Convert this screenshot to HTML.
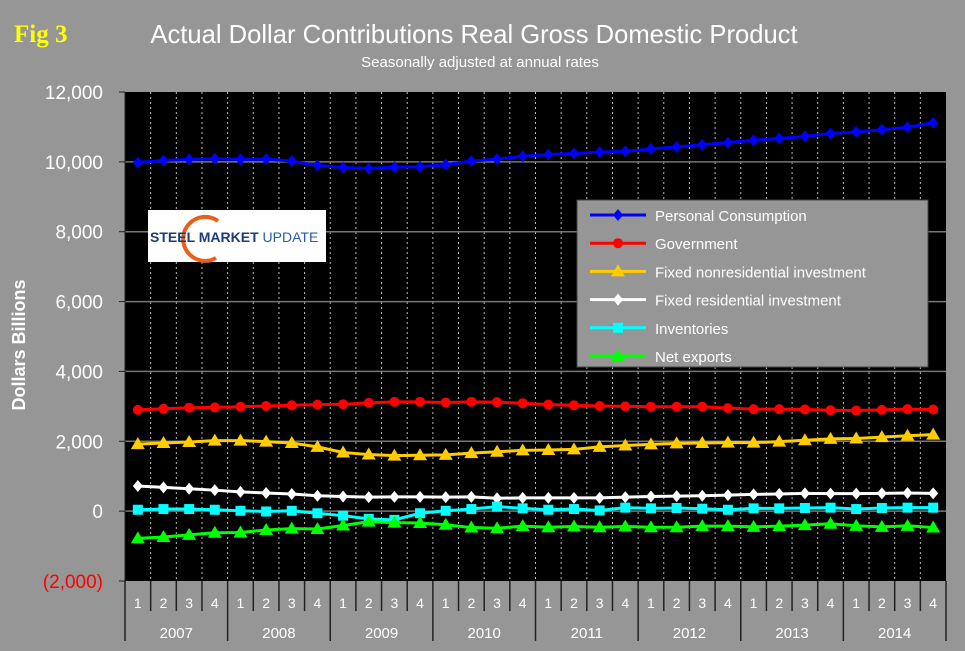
<!DOCTYPE html>
<html><head><meta charset="utf-8"><style>
body{margin:0;background:#969696;}
svg{display:block;font-family:"Liberation Sans",sans-serif;}
</style></head><body>
<svg id="c" width="965" height="651">
<rect x="0" y="0" width="965" height="651" fill="#969696"/>
<text x="14" y="42" font-family="Liberation Serif,serif" font-weight="bold" font-size="25" fill="#ffff00">Fig 3</text>
<text x="474" y="43" text-anchor="middle" font-size="25.6" fill="#fff">Actual Dollar Contributions Real Gross Domestic Product</text>
<text x="480" y="67" text-anchor="middle" font-size="15" fill="#fff">Seasonally adjusted at annual rates</text>
<text transform="translate(25,345) rotate(-90)" text-anchor="middle" font-size="18" font-weight="bold" fill="#fff">Dollars Billions</text>
<g id="plot"></g>
</svg>
<script>
const years=['2007','2008','2009','2010','2011','2012','2013','2014'];
const quarters=['1','2','3','4'];
const yTicks=[-2000,0,2000,4000,6000,8000,10000,12000];
const yTickLabels=['(2,000)','0','2,000','4,000','6,000','8,000','10,000','12,000'];
const seriesNames=['Personal Consumption','Government','Fixed nonresidential investment','Fixed residential investment','Inventories','Net exports'];
const personal=[9980,10040,10070,10090,10070,10080,10020,9900,9840,9810,9850,9860,9920,10020,10080,10160,10210,10240,10280,10300,10370,10430,10490,10550,10620,10670,10730,10810,10860,10920,10990,11120];
const government=[2900,2930,2960,2970,2990,3010,3030,3050,3060,3100,3130,3130,3110,3130,3120,3090,3050,3030,3010,3000,2990,2990,2990,2950,2920,2920,2910,2890,2880,2900,2920,2910];
const nonres=[1920,1950,1980,2020,2020,1990,1950,1840,1680,1620,1590,1600,1610,1660,1700,1740,1750,1770,1840,1880,1910,1940,1950,1960,1960,1990,2030,2070,2080,2120,2160,2190];
const resid=[720,680,640,600,550,520,490,440,420,400,410,410,400,410,370,380,380,380,380,400,420,430,440,460,480,490,510,500,500,510,520,510];
const inventories=[40,60,60,40,10,-10,10,-60,-130,-220,-250,-60,10,60,130,80,40,60,20,100,80,90,70,40,80,80,90,100,60,90,100,100];
const netExports=[-780,-740,-680,-620,-610,-540,-500,-510,-410,-300,-330,-340,-390,-470,-490,-430,-460,-440,-460,-440,-460,-460,-430,-430,-450,-430,-400,-360,-420,-450,-420,-470];

const NS='http://www.w3.org/2000/svg';
const X0=125,X1=946,Y0=92,Y1=581,VMIN=-2000,VMAX=12000;
const N=years.length*quarters.length, W=(X1-X0)/N;
const xs=i=>X0+W*(i+0.5);
const ys=v=>Y1-(v-VMIN)/(VMAX-VMIN)*(Y1-Y0);
const g=document.getElementById('plot');
function mk(t,a,p){const e=document.createElementNS(NS,t);for(const k in a)e.setAttribute(k,a[k]);(p||g).appendChild(e);return e;}

const bg=mk('rect',{x:X0,y:Y0,width:X1-X0,height:Y1-Y0,fill:'#000'});


for(let i=1;i<N;i++){
  const l=mk('line',{x1:X0+W*i,x2:X0+W*i,y1:Y0,y2:Y1,stroke:'#bbb','stroke-width':1,'stroke-dasharray':'2,3'});
  
  
}
yTicks.forEach((v,i)=>{
  if(v!==VMIN&&v!==VMAX){
    const l=mk('line',{x1:X0,x2:X1,y1:ys(v),y2:ys(v),stroke:'#777','stroke-width':1.5});
    
    
  }
  const tk=mk('line',{x1:X0-6,x2:X0,y1:ys(v),y2:ys(v),stroke:'#222'});
  
  
  const t=mk('text',{x:103,y:ys(v)+7,'text-anchor':'end','font-size':19,fill:v<0?'#ff0000':'#fff'});
  t.textContent=yTickLabels[i];
  
  
});
const ax=mk('line',{x1:X0,x2:X0,y1:Y0,y2:Y1,stroke:'#222','stroke-width':1});


for(let i=0;i<=N;i++){
  const isYear=i%4===0;
  const l=mk('line',{x1:X0+W*i,x2:X0+W*i,y1:Y1,y2:isYear?641:611,stroke:'#222','stroke-width':1.5});
  
  
}
years.forEach((yr,yi)=>{
  quarters.forEach((q,qi)=>{
    const t=mk('text',{x:xs(yi*4+qi),y:608,'text-anchor':'middle','font-size':14,fill:'#fff'});
    t.textContent=q;
    
    
  });
  const t=mk('text',{x:X0+W*(yi*4+2),y:638,'text-anchor':'middle','font-size':15,fill:'#fff'});
  t.textContent=yr;
  
  
});

function marker(type,x,y,c,p){
  if(type==='diamond')return mk('polygon',{points:`${x},${y-6} ${x+5},${y} ${x},${y+6} ${x-5},${y}`,fill:c},p);
  if(type==='circle')return mk('circle',{cx:x,cy:y,r:5,fill:c},p);
  if(type==='tri')return mk('polygon',{points:`${x},${y-7} ${x+7},${y+5} ${x-7},${y+5}`,fill:c},p);
  return mk('rect',{x:x-5,y:y-5,width:10,height:10,fill:c},p);
}
const seriesData=[personal,government,nonres,resid,inventories,netExports];
const colors=['#0000ff','#ff0000','#ffcc00','#ffffff','#00ffff','#00ff00'];
const mtypes=['diamond','circle','tri','diamond','square','tri'];
const snames=['series-personal-consumption','series-government','series-fixed-nonresidential','series-fixed-residential','series-inventories','series-net-exports'];
seriesData.forEach((d,s)=>{
  const sg=mk('g',{});
  
  
  const pl=mk('polyline',{points:d.map((v,i)=>xs(i)+','+ys(v)).join(' '),fill:'none',stroke:colors[s],'stroke-width':3},sg);
  
  
  d.forEach((v,i)=>{
    const m=marker(mtypes[s],xs(i),ys(v),colors[s],sg);
    
    
  });
});

// logo
const lg=mk('g',{});


mk('rect',{x:148,y:210,width:178,height:52,fill:'#fff'},lg);
mk('path',{d:'M218,221 A22,22 0 1,0 216,258',fill:'none',stroke:'#e8601c','stroke-width':4},lg);
const lt=mk('text',{x:150,y:242,'font-size':14,'font-weight':'bold',fill:'#1a3c7a'},lg);
lt.innerHTML='STEEL MARKET <tspan font-weight="normal" fill="#2a5ca8">UPDATE</tspan>';

// legend
const leg=mk('g',{});


mk('rect',{x:577,y:200,width:351,height:167,fill:'#969696',stroke:'#444'},leg);
seriesNames.forEach((n,s)=>{
  const y=215+s*28.2;
  const e=mk('g',{},leg);
  
  
  mk('line',{x1:590,x2:646,y1:y,y2:y,stroke:colors[s],'stroke-width':3},e);
  marker(mtypes[s],618,y,colors[s],e);
  const t=mk('text',{x:655,y:y+6,'font-size':15,fill:'#fff'},e);
  t.textContent=n;
});
</script>
</body></html>
